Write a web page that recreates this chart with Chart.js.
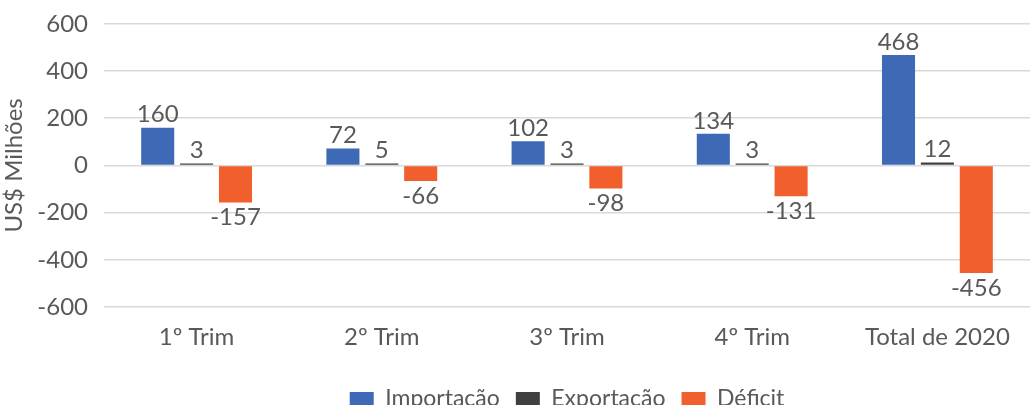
<!DOCTYPE html>
<html>
<head>
<meta charset="utf-8">
<script src="https://cdn.jsdelivr.net/npm/chart.js@4"></script>
<style>
  html, body { margin: 0; padding: 0; background: #fff; overflow: hidden; }
  #wrap { width: 1030px; height: 420px; }
</style>
</head>
<body>
<div id="wrap"><canvas id="grafico" width="1030" height="420"></canvas></div>
<script>
const categorias = ['1º Trim', '2º Trim', '3º Trim', '4º Trim', 'Total de 2020'];
const importacao = [160, 72, 102, 134, 468];
const exportacao = [3, 5, 3, 3, 12];
const deficit = [-157, -66, -98, -131, -456];
const ticksY = [-600, -400, -200, 0, 200, 400, 600];

const corTexto = '#595959';
const fonte = 'Lato, "Open Sans", sans-serif';

// rótulos de dados acima/abaixo das barras
const rotulos = {
    id: 'rotulos',
    afterDatasetsDraw(chart) {
        const ctx = chart.ctx;
        ctx.save();
        ctx.font = '24px ' + fonte;
        ctx.fillStyle = corTexto;
        ctx.textAlign = 'center';
        chart.data.datasets.forEach((ds, i) => {
            const meta = chart.getDatasetMeta(i);
            meta.data.forEach((bar, j) => {
                const v = ds.data[j];
                if (v >= 0) {
                    ctx.textBaseline = 'bottom';
                    ctx.fillText(v, bar.x, bar.y - 1);
                } else {
                    ctx.textBaseline = 'top';
                    ctx.fillText(v, bar.x, bar.y + 3);
                }
            });
        });
        ctx.restore();
    }
};

new Chart(document.getElementById('grafico'), {
    type: 'bar',
    data: {
        labels: categorias,
        datasets: [
            { label: 'Importação', data: importacao, backgroundColor: '#3D69B6' },
            { label: 'Exportação', data: exportacao, backgroundColor: '#404040' },
            { label: 'Déficit', data: deficit, backgroundColor: '#F15F2C' }
        ]
    },
    options: {
        responsive: false,
        animation: false,
        datasets: { bar: { categoryPercentage: 0.63, barPercentage: 0.85, minBarLength: 2 } },
        layout: { padding: { top: 11, right: 0, left: 0, bottom: 0 } },
        plugins: {
            tooltip: { enabled: false },
            legend: {
                position: 'bottom',
                fullSize: false,
                labels: {
                    color: corTexto,
                    font: { family: fonte, size: 23 },
                    boxWidth: 24,
                    boxHeight: 13,
                    padding: 16
                }
            }
        },
        scales: {
            x: {
                grid: { display: false },
                border: { display: false },
                ticks: { color: corTexto, font: { family: fonte, size: 24 }, padding: 8 },
                afterFit(scale) { scale.height = 64; }
            },
            y: {
                min: -600,
                max: 600,
                afterBuildTicks(scale) { scale.ticks = ticksY.map(v => ({ value: v })); },
                grid: { color: '#D9D9D9', lineWidth: 1.5, drawTicks: false },
                border: { display: false },
                ticks: { color: corTexto, font: { family: fonte, size: 24, lineHeight: 0.65 }, padding: 16 },
                title: { display: true, text: 'US$ Milhões', color: corTexto, font: { family: fonte, size: 24 }, padding: 0 },
                afterFit(scale) { scale.width = 104; }
            }
        }
    },
    plugins: [rotulos]
});
</script>
</body>
</html>
